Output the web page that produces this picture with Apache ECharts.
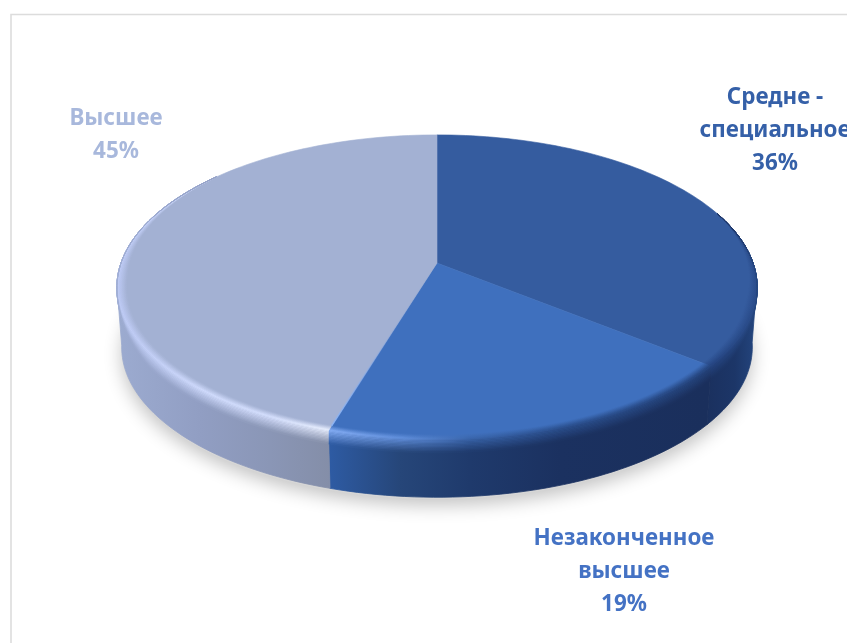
<!DOCTYPE html>
<html>
<head>
<meta charset="utf-8">
<style>html,body{margin:0;padding:0;background:#fff}#chart{width:847px;height:643px}</style>
<script src="https://cdn.jsdelivr.net/npm/echarts@6/dist/echarts.min.js"></script>
</head>
<body>
<div id="chart"></div>
<script>
// Education levels, share in percent, clockwise from twelve o'clock
const categories = ['Средне -\nспециальное', 'Незаконченное\nвысшее', 'Высшее'];
const shares = [36, 19, 45];

const faceColors = ['#355c9f', '#3f70be', '#a3b1d3'];
const labelColors = ['#3560a8', '#4472c4', '#a8b8dc'];
const labelCenters = [[775, 131], [624, 572], [116, 135.5]];

// Horizontal shading of the outer wall and of the rounded rim: [x, wall, rim]
const shades = [
  [[700, '#1a2f5c', '#24427f'], [735, '#1c3668', '#284a88'], [757, '#24467f', '#2b4d8c']],
  [[330, '#2e5ba3', '#86aef5'], [400, '#264679', '#6391de'], [470, '#1f3a6c', '#3a66ad'],
   [560, '#1b3160', '#2c5292'], [705, '#1a2f5c', '#25457f']],
  [[117, '#9cabd0', '#bcc9f4'], [200, '#919ec3', '#d0dbfd'], [270, '#8a96b6', '#d6e0fe'],
   [330, '#848ea8', '#eaf0ff']]
];

// Perspective projection of the disc
const cx = 437, cy = 263;
const spanX = 316, spanY = 148.6, persp = 0.16, depth = 60, bottomScale = 0.985;
const bevelInset = 0.03, bevelDrop = 13, bevelSteps = 16;
// Where the side of the disc turns away from the viewer
const wallFrom = 98, wallTo = 262;

function project(deg, scale, drop) {
  const tilted = deg - 1.1 * (1 - Math.cos(deg * Math.PI / 180)) / 2;
  const r = tilted * Math.PI / 180;
  const u = Math.cos(r), v = Math.sin(r), w = 1 + persp * u;
  return [cx + scale * spanX * v / w, cy - scale * spanY * u / w + (drop || 0)];
}
const clamp01 = x => Math.min(1, Math.max(0, x));
// The rounded edge shows on the front of the disc and dies out towards the back
const insetAmount = deg => clamp01((deg - 70) / 35) * clamp01((310 - deg) / 45);
const dropAmount = deg => clamp01((deg - wallFrom) / 25) * clamp01((wallTo - deg) / 25);

// t runs 0..1 over the bevel: first out to the rim, then down onto the wall
function bevelPoint(deg, t) {
  const s = 1 - bevelInset * insetAmount(deg) * clamp01(1 - t / 0.4);
  return project(deg, s, bevelDrop * dropAmount(deg) * clamp01((t - 0.4) / 0.6));
}
function sweep(a0, a1, fn) {
  const pts = [], n = Math.max(2, Math.ceil(Math.abs(a1 - a0) / 1.5));
  for (let i = 0; i <= n; i++) pts.push(fn(a0 + (a1 - a0) * i / n));
  return pts;
}
function sliceRange(i) {
  const total = shares.reduce((p, c) => p + c, 0);
  const before = shares.slice(0, i).reduce((p, c) => p + c, 0);
  return [before / total * 360, (before + shares[i]) / total * 360];
}
function xGradient(stops) {
  const a = stops[0][0], b = stops[stops.length - 1][0];
  return new echarts.graphic.LinearGradient(a, 0, b, 0, stops.map(s => ({
    offset: (s[0] - a) / (b - a), color: s[1]
  })), true);
}
// Colour across the bevel: face -> rim highlight -> wall
function bevelColour(i, stop, t) {
  if (t < 0.35) return echarts.color.lerp(t / 0.35, [faceColors[i], stop[2]]);
  return echarts.color.lerp((t - 0.35) / 0.65, [stop[2], stop[1]]);
}

const layers = {
  shadow(i) {
    if (i !== 0) return { type: 'group', children: [] };
    return {
      type: 'polygon',
      shape: { points: sweep(0, 360, a => project(a, bottomScale, depth + 2)) },
      style: {
        fill: '#d6d6d6', shadowBlur: 18, shadowColor: 'rgba(0,0,0,0.24)',
        shadowOffsetX: 0, shadowOffsetY: 6
      }
    };
  },
  wall(i) {
    const [s0, s1] = sliceRange(i);
    const a0 = Math.max(s0, wallFrom), a1 = Math.min(s1, wallTo);
    const pts = sweep(a0, a1, a => project(a, 1))
      .concat(sweep(a1, a0, a => project(a, bottomScale, depth)));
    const fill = xGradient(shades[i].map(s => [s[0], s[1]]));
    return {
      type: 'polygon', shape: { points: pts },
      // Pale slice sits on top of the seam so the neighbouring walls close up
      style: { fill, stroke: fill, lineWidth: 0.8 }
    };
  },
  face(i) {
    const [a0, a1] = sliceRange(i);
    return {
      type: 'polygon',
      shape: { points: [[cx, cy]].concat(sweep(a0, a1, a => project(a, 1))) },
      style: { fill: faceColors[i], stroke: faceColors[i], lineWidth: 0.6 }
    };
  },
  rim(i) {
    const [s0, s1] = sliceRange(i);
    const a0 = Math.max(s0, 70), a1 = Math.min(s1, 310);
    const children = [];
    for (let k = 0; k < bevelSteps; k++) {
      const t0 = k / bevelSteps, t1 = (k + 1) / bevelSteps, tm = (t0 + t1) / 2;
      const fill = xGradient(shades[i].map(s => [s[0], bevelColour(i, s, tm)]));
      children.push({
        type: 'polygon',
        shape: { points: sweep(a0, a1, a => bevelPoint(a, t0))
          .concat(sweep(a1, a0, a => bevelPoint(a, t1))) },
        style: { fill, stroke: fill, lineWidth: 0.5 }
      });
    }
    return { type: 'group', children };
  },
  seam(i) {
    // Light edge where the pale slice meets the one before it
    if (i !== 2) return { type: 'group', children: [] };
    const corner = bevelPoint(sliceRange(2)[0], 0);
    return {
      type: 'line',
      shape: { x1: cx, y1: cy, x2: corner[0], y2: corner[1] },
      style: {
        lineWidth: 1.5,
        stroke: new echarts.graphic.LinearGradient(cx, cy, corner[0], corner[1], [
          { offset: 0, color: 'rgba(130,165,230,0)' },
          { offset: 0.45, color: 'rgba(130,165,230,0.2)' },
          { offset: 1, color: 'rgba(140,180,245,0.95)' }
        ], true)
      }
    };
  },
  label(i) {
    return {
      type: 'text',
      style: {
        x: labelCenters[i][0], y: labelCenters[i][1],
        text: categories[i] + '\n' + shares[i] + '%',
        fill: labelColors[i], align: 'center', verticalAlign: 'middle',
        font: 'bold 22.4px "Noto Sans"', lineHeight: 33
      }
    };
  }
};

const series = Object.keys(layers).map((name, order) => ({
  type: 'custom',
  name,
  coordinateSystem: 'none',
  silent: true,
  z: order + 2,
  clip: false,
  animation: false,
  data: shares,
  renderItem: params => layers[name](params.dataIndex)
}));

const chart = echarts.init(document.getElementById('chart'), null, { renderer: 'canvas' });
chart.setOption({
  backgroundColor: '#ffffff',
  animation: false,
  // Chart-area frame: only its top and left edges fall inside the page
  graphic: [{
    type: 'rect', z: 1, silent: true,
    shape: { x: 11, y: 14.5, width: 1400, height: 1400 },
    style: { fill: 'none', stroke: '#dcdcdc', lineWidth: 1.6 }
  }],
  series
});
</script>
</body>
</html>
